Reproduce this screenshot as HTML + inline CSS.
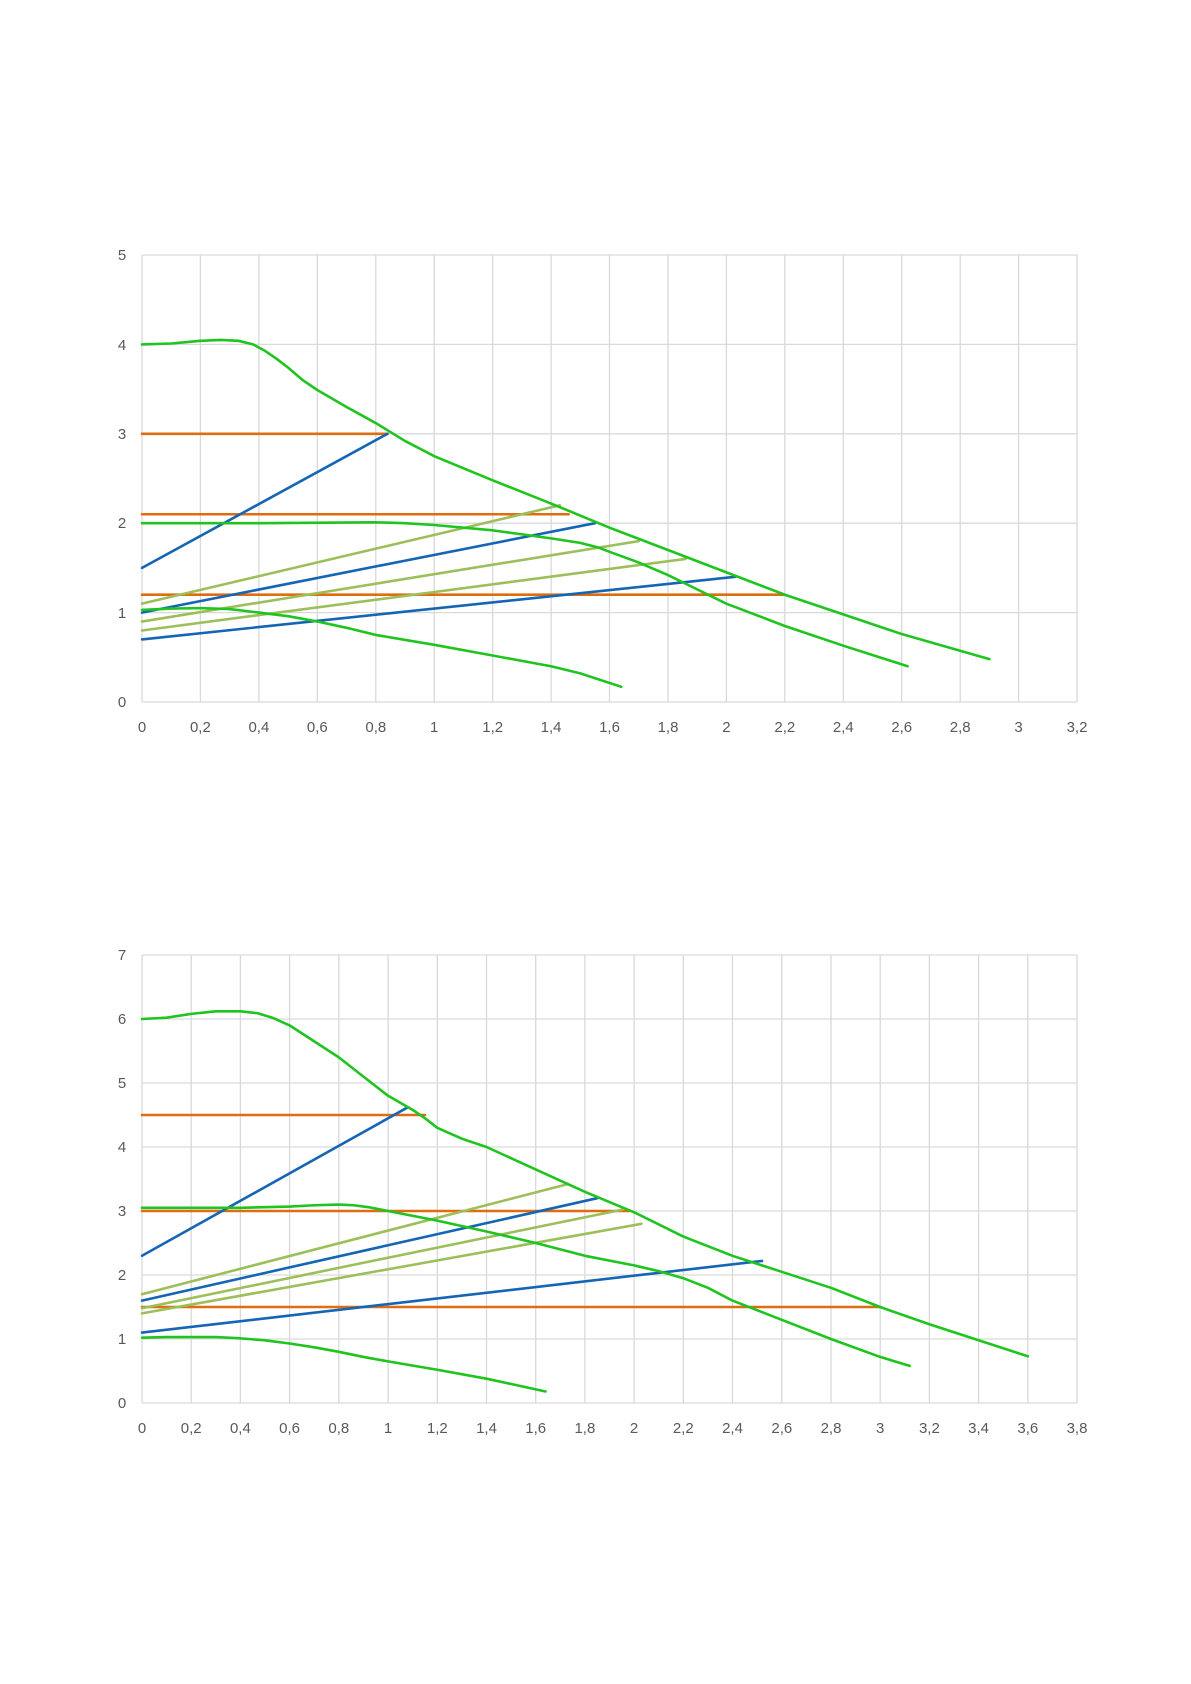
<!DOCTYPE html>
<html><head><meta charset="utf-8"><style>
html,body{margin:0;padding:0;background:#fff}
svg{display:block}
text{font-family:"Liberation Sans",sans-serif;font-size:15px;fill:#595959}
.g{stroke:#d9d9d9;stroke-width:1.3}
.s{fill:none;stroke-width:2.6;vector-effect:non-scaling-stroke;stroke-linejoin:round;stroke-linecap:round}
.gr{stroke:#1fc41f}.or{stroke:#e06c10}.bl{stroke:#1565b5}.ol{stroke:#9cbf5a}
</style></head><body>
<svg width="1191" height="1684" viewBox="0 0 1191 1684">
<g class="g">
<line x1="142" y1="255" x2="142" y2="702"/><line x1="200.4" y1="255" x2="200.4" y2="702"/><line x1="258.9" y1="255" x2="258.9" y2="702"/><line x1="317.3" y1="255" x2="317.3" y2="702"/><line x1="375.8" y1="255" x2="375.8" y2="702"/><line x1="434.2" y1="255" x2="434.2" y2="702"/><line x1="492.7" y1="255" x2="492.7" y2="702"/><line x1="551.1" y1="255" x2="551.1" y2="702"/><line x1="609.5" y1="255" x2="609.5" y2="702"/><line x1="668" y1="255" x2="668" y2="702"/><line x1="726.4" y1="255" x2="726.4" y2="702"/><line x1="784.8" y1="255" x2="784.8" y2="702"/><line x1="843.3" y1="255" x2="843.3" y2="702"/><line x1="901.7" y1="255" x2="901.7" y2="702"/><line x1="960.2" y1="255" x2="960.2" y2="702"/><line x1="1018.6" y1="255" x2="1018.6" y2="702"/><line x1="1077" y1="255" x2="1077" y2="702"/>
<line x1="142" y1="702" x2="1077" y2="702"/><line x1="142" y1="612.6" x2="1077" y2="612.6"/><line x1="142" y1="523.2" x2="1077" y2="523.2"/><line x1="142" y1="433.8" x2="1077" y2="433.8"/><line x1="142" y1="344.4" x2="1077" y2="344.4"/><line x1="142" y1="255" x2="1077" y2="255"/>
</g>
<g text-anchor="middle">
<text x="142" y="732">0</text><text x="200.4" y="732">0,2</text><text x="258.9" y="732">0,4</text><text x="317.3" y="732">0,6</text><text x="375.8" y="732">0,8</text><text x="434.2" y="732">1</text><text x="492.7" y="732">1,2</text><text x="551.1" y="732">1,4</text><text x="609.5" y="732">1,6</text><text x="668" y="732">1,8</text><text x="726.4" y="732">2</text><text x="784.8" y="732">2,2</text><text x="843.3" y="732">2,4</text><text x="901.7" y="732">2,6</text><text x="960.2" y="732">2,8</text><text x="1018.6" y="732">3</text><text x="1077" y="732">3,2</text>
<text x="122" y="707">0</text><text x="122" y="618">1</text><text x="122" y="528">2</text><text x="122" y="439">3</text><text x="122" y="350">4</text><text x="122" y="260">5</text>
</g>
<g transform="translate(142,702) scale(292.2,-89.4)">
<polyline class="s or" points="0,3 0.84,3"/>
<polyline class="s or" points="0,2.1 1.46,2.1"/>
<polyline class="s or" points="0,1.2 2.2,1.2"/>
<polyline class="s ol" points="0,1.1 1.43,2.2"/>
<polyline class="s ol" points="0,0.9 1.7,1.8"/>
<polyline class="s ol" points="0,0.8 1.86,1.6"/>
<polyline class="s bl" points="0,1.5 0.84,3"/>
<polyline class="s bl" points="0,1 1.55,2"/>
<polyline class="s bl" points="0,0.7 2.03,1.4"/>
<polyline class="s gr" points="0,4 0.1,4.01 0.2,4.04 0.27,4.05 0.33,4.04 0.38,4.0 0.42,3.93 0.46,3.84 0.5,3.74 0.55,3.6 0.6,3.49 0.7,3.3 0.8,3.12 0.9,2.92 1,2.75 1.2,2.48 1.4,2.22 1.6,1.95 1.8,1.7 2.0,1.45 2.2,1.2 2.4,0.98 2.6,0.76 2.9,0.48"/>
<polyline class="s gr" points="0,2 0.4,2 0.8,2.01 0.9,2.0 1.0,1.98 1.2,1.92 1.4,1.83 1.5,1.78 1.56,1.73 1.6,1.68 1.7,1.56 1.8,1.42 1.9,1.26 2.0,1.1 2.2,0.85 2.4,0.63 2.62,0.4"/>
<polyline class="s gr" points="0,1.03 0.1,1.045 0.2,1.05 0.3,1.04 0.4,1.0 0.5,0.96 0.6,0.9 0.7,0.83 0.8,0.75 1.0,0.64 1.2,0.52 1.4,0.4 1.5,0.32 1.64,0.17"/>
</g>
<g class="g">
<line x1="142" y1="955" x2="142" y2="1403"/><line x1="191.2" y1="955" x2="191.2" y2="1403"/><line x1="240.4" y1="955" x2="240.4" y2="1403"/><line x1="289.6" y1="955" x2="289.6" y2="1403"/><line x1="338.8" y1="955" x2="338.8" y2="1403"/><line x1="388.1" y1="955" x2="388.1" y2="1403"/><line x1="437.3" y1="955" x2="437.3" y2="1403"/><line x1="486.5" y1="955" x2="486.5" y2="1403"/><line x1="535.7" y1="955" x2="535.7" y2="1403"/><line x1="584.9" y1="955" x2="584.9" y2="1403"/><line x1="634.1" y1="955" x2="634.1" y2="1403"/><line x1="683.3" y1="955" x2="683.3" y2="1403"/><line x1="732.5" y1="955" x2="732.5" y2="1403"/><line x1="781.8" y1="955" x2="781.8" y2="1403"/><line x1="831" y1="955" x2="831" y2="1403"/><line x1="880.2" y1="955" x2="880.2" y2="1403"/><line x1="929.4" y1="955" x2="929.4" y2="1403"/><line x1="978.6" y1="955" x2="978.6" y2="1403"/><line x1="1027.8" y1="955" x2="1027.8" y2="1403"/><line x1="1077" y1="955" x2="1077" y2="1403"/>
<line x1="142" y1="1403" x2="1077" y2="1403"/><line x1="142" y1="1339" x2="1077" y2="1339"/><line x1="142" y1="1275" x2="1077" y2="1275"/><line x1="142" y1="1211" x2="1077" y2="1211"/><line x1="142" y1="1147" x2="1077" y2="1147"/><line x1="142" y1="1083" x2="1077" y2="1083"/><line x1="142" y1="1019" x2="1077" y2="1019"/><line x1="142" y1="955" x2="1077" y2="955"/>
</g>
<g text-anchor="middle">
<text x="142" y="1433">0</text><text x="191.2" y="1433">0,2</text><text x="240.4" y="1433">0,4</text><text x="289.6" y="1433">0,6</text><text x="338.8" y="1433">0,8</text><text x="388.1" y="1433">1</text><text x="437.3" y="1433">1,2</text><text x="486.5" y="1433">1,4</text><text x="535.7" y="1433">1,6</text><text x="584.9" y="1433">1,8</text><text x="634.1" y="1433">2</text><text x="683.3" y="1433">2,2</text><text x="732.5" y="1433">2,4</text><text x="781.8" y="1433">2,6</text><text x="831" y="1433">2,8</text><text x="880.2" y="1433">3</text><text x="929.4" y="1433">3,2</text><text x="978.6" y="1433">3,4</text><text x="1027.8" y="1433">3,6</text><text x="1077" y="1433">3,8</text>
<text x="122" y="1408">0</text><text x="122" y="1344">1</text><text x="122" y="1280">2</text><text x="122" y="1216">3</text><text x="122" y="1152">4</text><text x="122" y="1088">5</text><text x="122" y="1024">6</text><text x="122" y="960">7</text>
</g>
<g transform="translate(142,1403) scale(246.05,-64)">
<polyline class="s or" points="0,4.5 1.15,4.5"/>
<polyline class="s or" points="0,3 1.98,3"/>
<polyline class="s or" points="0,1.5 3.0,1.5"/>
<polyline class="s ol" points="0,1.7 1.73,3.42"/>
<polyline class="s ol" points="0,1.48 1.95,3.02"/>
<polyline class="s ol" points="0,1.4 2.03,2.8"/>
<polyline class="s bl" points="0,2.3 1.08,4.62"/>
<polyline class="s bl" points="0,1.6 1.85,3.2"/>
<polyline class="s bl" points="0,1.1 2.52,2.22"/>
<polyline class="s gr" points="0,6 0.1,6.02 0.2,6.08 0.3,6.12 0.4,6.12 0.47,6.09 0.53,6.02 0.6,5.9 0.7,5.65 0.8,5.4 0.9,5.1 1.0,4.8 1.1,4.58 1.15,4.45 1.2,4.3 1.3,4.13 1.4,4.0 1.6,3.65 1.8,3.3 2.0,2.98 2.2,2.6 2.4,2.3 2.6,2.05 2.8,1.8 3.0,1.5 3.2,1.23 3.4,0.98 3.6,0.73"/>
<polyline class="s gr" points="0,3.05 0.4,3.05 0.6,3.07 0.7,3.09 0.8,3.1 0.86,3.09 0.92,3.06 1.0,3.0 1.2,2.85 1.4,2.68 1.6,2.5 1.8,2.3 2.0,2.15 2.1,2.06 2.2,1.95 2.3,1.8 2.4,1.6 2.6,1.3 2.8,1.0 3.0,0.72 3.12,0.58"/>
<polyline class="s gr" points="0,1.02 0.1,1.03 0.2,1.03 0.3,1.03 0.4,1.01 0.5,0.98 0.6,0.93 0.7,0.87 0.8,0.8 0.9,0.72 1.0,0.65 1.2,0.52 1.4,0.38 1.64,0.18"/>
</g>
</svg>
</body></html>
